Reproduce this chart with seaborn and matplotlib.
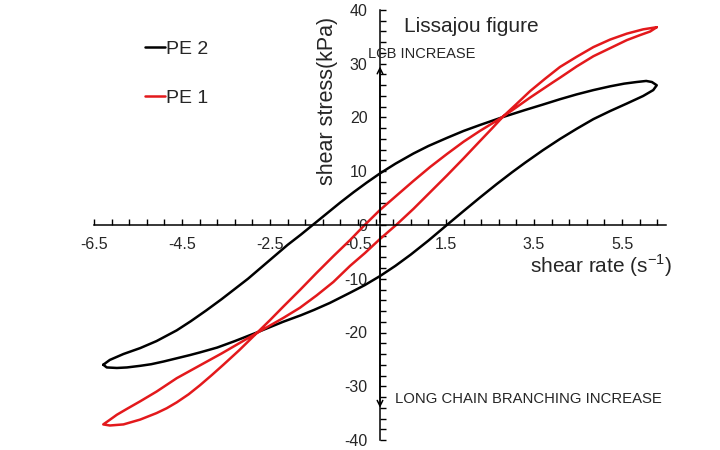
import numpy as np
import pandas as pd
import matplotlib
matplotlib.use("Agg")
import matplotlib.pyplot as plt
import seaborn as sns
from matplotlib.ticker import FixedLocator

# PE 2 (black loop): upper branch left tip -> right tip
pe2_up_x = [-6.29, -6.14, -5.83, -5.45, -5.08, -4.62, -4.30, -3.95, -3.60, -3.30,
            -3.00, -2.70, -2.40, -2.10, -1.80, -1.50, -1.20, -0.90, -0.60, -0.30,
            0.00, 0.35, 0.76, 1.10, 1.52, 1.90, 2.27, 2.80, 3.30, 3.70,
            4.09, 4.47, 4.85, 5.23, 5.55, 5.83, 6.05, 6.18, 6.29]
pe2_up_y = [-26.0, -25.1, -24.0, -22.9, -21.6, -19.6, -17.9, -15.9, -13.8, -11.9,
            -10.0, -7.9, -5.8, -3.7, -1.8, 0.2, 2.2, 4.2, 6.1, 7.9,
            9.6, 11.4, 13.3, 14.7, 16.2, 17.5, 18.6, 20.1, 21.4, 22.4,
            23.4, 24.3, 25.1, 25.8, 26.3, 26.6, 26.8, 26.6, 26.0]
# PE 2 lower branch right tip -> left tip
pe2_lo_x = [6.21, 5.98, 5.61, 5.23, 4.85, 4.47, 4.09, 3.70, 3.30, 3.00,
            2.65, 2.27, 1.90, 1.52, 1.10, 0.70, 0.35, 0.00, -0.35, -0.68,
            -1.14, -1.50, -1.80, -2.20, -2.50, -2.80, -3.30, -3.70, -4.09, -4.32,
            -4.62, -4.92, -5.20, -5.45, -5.75, -5.98, -6.21, -6.29]
pe2_lo_y = [25.1, 24.0, 22.6, 21.2, 19.7, 17.9, 16.0, 13.9, 11.6, 9.8,
            7.6, 5.1, 2.6, 0.0, -2.9, -5.5, -7.6, -9.5, -11.2, -12.6,
            -14.5, -15.8, -16.8, -18.0, -19.0, -20.0, -21.6, -22.8, -23.7, -24.2,
            -24.8, -25.4, -25.9, -26.2, -26.5, -26.6, -26.5, -26.0]

# PE 1 (red loop): right tip -> upper right -> middle lower -> upper left -> left tip
pe1_a_x = [6.29, 5.98, 5.61, 5.23, 4.85, 4.47, 4.09, 3.75, 3.41, 3.10,
           2.80, 2.55, 2.27, 1.90, 1.52, 1.14, 0.76, 0.38, 0.00, -0.34,
           -0.68, -1.06, -1.44, -1.82, -2.20, -2.50, -2.80, -3.20, -3.60, -4.00,
           -4.31, -4.62, -5.08, -5.45, -5.75, -5.98, -6.15, -6.29]
pe1_a_y = [36.8, 36.4, 35.6, 34.5, 33.1, 31.3, 29.4, 27.2, 24.9, 22.5,
           20.2, 18.0, 15.6, 12.4, 9.2, 6.1, 3.0, 0.1, -2.6, -5.2,
           -7.6, -10.6, -13.1, -15.4, -17.3, -18.7, -20.1, -22.0, -23.9, -25.7,
           -27.1, -28.5, -31.0, -32.8, -34.2, -35.3, -36.3, -37.1]
# left tip -> lower left -> middle upper -> lower right -> right tip
pe1_b_x = [-6.14, -5.83, -5.45, -5.08, -4.85, -4.62, -4.35, -4.09, -3.82, -3.56,
           -3.20, -2.80, -2.50, -2.20, -1.82, -1.44, -1.06, -0.68, -0.36, 0.00,
           0.45, 0.76, 1.14, 1.52, 1.90, 2.27, 2.55, 2.80, 3.10, 3.41,
           3.94, 4.09, 4.47, 4.85, 5.23, 5.61, 5.90, 6.14, 6.29]
pe1_b_y = [-37.3, -37.1, -36.2, -35.0, -34.1, -33.0, -31.5, -29.8, -27.9, -26.0,
           -23.3, -20.1, -17.7, -15.2, -12.1, -8.9, -5.8, -2.8, -0.1, 2.8,
           6.0, 8.2, 10.8, 13.2, 15.5, 17.5, 18.9, 20.2, 21.9, 23.7,
           26.6, 27.4, 29.5, 31.4, 32.9, 34.4, 35.3, 36.0, 36.8]

x_ticks = [-6.5, -4.5, -2.5, -0.5, 1.5, 3.5, 5.5]
y_ticks = [-40, -30, -20, -10, 0, 10, 20, 30, 40]

sns.set_style("white")
plt.rcParams['font.family'] = ['Liberation Sans', 'DejaVu Sans']
plt.rcParams['mathtext.fontset'] = 'custom'
plt.rcParams['mathtext.rm'] = 'Liberation Sans'
plt.rcParams['axes.unicode_minus'] = False

fig = plt.figure(figsize=(7.2, 4.5), dpi=100)
ax = fig.add_axes([94 / 720, 10 / 450, 572 / 720, 430 / 450])

df2 = pd.DataFrame({'rate': pe2_up_x + pe2_lo_x, 'stress': pe2_up_y + pe2_lo_y})
df1 = pd.DataFrame({'rate': pe1_a_x + pe1_b_x, 'stress': pe1_a_y + pe1_b_y})
sns.lineplot(data=df2, x='rate', y='stress', sort=False, estimator=None,
             color='black', lw=1.8, label='PE 2', ax=ax)
sns.lineplot(data=df1, x='rate', y='stress', sort=False, estimator=None,
             color='#e3191c', lw=1.8, label='PE 1', ax=ax)

ax.set_xlim(-6.5, 6.5)
ax.set_ylim(-40, 40)
ax.set_xlabel('')
ax.set_ylabel('')

# axes crossing at the origin
ax.spines['left'].set_position(('data', 0))
ax.spines['bottom'].set_position(('data', 0))
ax.spines['top'].set_visible(False)
ax.spines['right'].set_visible(False)
for s in ['left', 'bottom']:
    ax.spines[s].set_color('black')
    ax.spines[s].set_linewidth(1.1)

ax.xaxis.set_major_locator(FixedLocator(x_ticks))
ax.xaxis.set_minor_locator(FixedLocator(np.arange(-6.5, 6.6, 0.4)))
ax.yaxis.set_major_locator(FixedLocator(y_ticks))
ax.yaxis.set_minor_locator(FixedLocator(np.arange(-40, 41, 2)))
ax.set_xticklabels([str(v) for v in x_ticks])
ax.tick_params(axis='x', which='both', direction='in', length=4, width=1,
               color='black', labelsize=11.5, pad=9, bottom=True)
ax.tick_params(axis='y', which='both', direction='in', length=4, width=1,
               color='black', labelsize=11.5, pad=9, left=True)

ax.text(0.55, 36.9, 'Lissajou figure', fontsize=15, ha='left', va='center')
ax.text(-1.2, 23.0, 'shear stress(kPa)', fontsize=15.5, rotation=90,
        ha='center', va='center')
ax.text(3.4, -7.5, r'shear rate (s$^{\mathregular{-1}}$)', fontsize=15,
        ha='left', va='center')
ax.text(-0.27, 31.8, 'LCB INCREASE', fontsize=10.5, ha='left', va='center')
ax.text(0.34, -32.3, 'LONG CHAIN BRANCHING INCREASE', fontsize=10.7,
        ha='left', va='center')
ax.annotate('', xy=(0, 30), xytext=(0, 0),
            arrowprops=dict(arrowstyle='->', color='black', lw=1.1))
ax.annotate('', xy=(0, -34.5), xytext=(0, 0),
            arrowprops=dict(arrowstyle='->', color='black', lw=1.1))

ax.legend(loc='upper left', bbox_to_anchor=(145 / 720, 1 - 40 / 450),
          bbox_transform=fig.transFigure, frameon=False, fontsize=14,
          handlelength=1.05, handletextpad=0.05, borderpad=0,
          borderaxespad=0, labelspacing=1.65)

fig.savefig('out.png', dpi=100)
